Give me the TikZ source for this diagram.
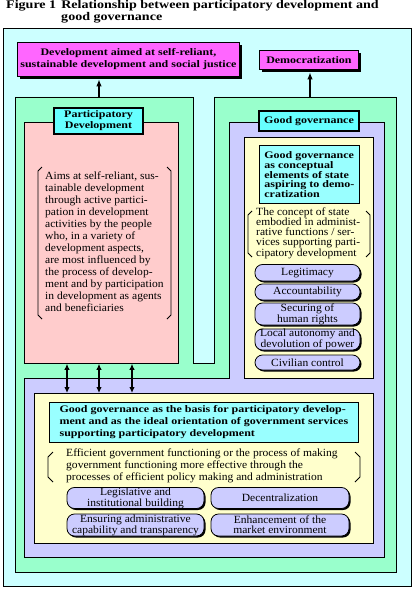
\documentclass[tikz,border=0pt]{standalone}
\usepackage{fontspec}
\setmainfont{Liberation Serif}[FakeStretch=1.05]
\newfontfamily\wideserif{Liberation Serif}[FakeStretch=1.2]
\usetikzlibrary{arrows.meta,shadows,calc}
\definecolor{bgcyan}{HTML}{CCFFFF}
\definecolor{mint}{HTML}{99FFCC}
\definecolor{lav}{HTML}{CCCCFF}
\definecolor{rose}{HTML}{FFCCCC}
\definecolor{cream}{HTML}{FFFFCC}
\definecolor{aqua}{HTML}{66FFFF}
\definecolor{paleaqua}{HTML}{99FFFF}
\definecolor{magent}{HTML}{FF66FF}
\newcommand\myTitleFont{\wideserif\bfseries\fontsize{11.7}{11}\selectfont}
\newcommand\myBoldFont{\wideserif\bfseries\fontsize{10}{12}\selectfont}
\newcommand\myLabFont{\wideserif\bfseries\fontsize{10}{11}\selectfont}
\newcommand\myTightBold{\wideserif\bfseries\fontsize{10}{9}\selectfont}
\newcommand\myBodyFont{\fontsize{11}{12}\selectfont}
\newcommand\myTightFont{\fontsize{11}{10}\selectfont}
\tikzset{
  region/.style={draw=black, line width=0.8pt, inner sep=0pt, anchor=north west},
  goalbox/.style={draw=black, line width=0.8pt, fill=magent, font=\myBoldFont, align=center, inner sep=0pt,
    drop shadow={shadow xshift=2.5pt, shadow yshift=-2.5pt, fill=black, opacity=1}},
  labelbox/.style={draw=black, line width=1.6pt, fill=aqua, font=\myLabFont, align=center, inner sep=0pt},
  infobox/.style={draw=black, line width=0.8pt, fill=paleaqua, align=left, inner sep=0pt},
  pill/.style={draw=black, line width=0.8pt, fill=lav, rounded corners=7.5pt, align=center, inner sep=0pt,
    font=\myTightFont, drop shadow={shadow xshift=1.5pt, shadow yshift=-1.5pt, fill=black, opacity=1}},
  brk/.style={draw=black, line width=0.8pt},
  uparr/.style={line width=1.5pt, -{Latex[length=7pt,width=5.5pt]}},
  dblarr/.style={line width=1.4pt, {Latex[length=6pt,width=5.5pt]}-{Latex[length=6pt,width=5.5pt]}}
}
\begin{document}
\begin{tikzpicture}[x=1pt,y=-1pt]
\useasboundingbox (0,0) rectangle (413,591);

% title
\node[anchor=base west, inner sep=0pt, font=\myTitleFont] (title) at (6,9)
  {\begin{tabular}[t]{@{}l@{\hspace{5pt}}l@{}}Figure 1 & Relationship between participatory development and\\ & good governance\end{tabular}};

% outer frame
\node[region, fill=bgcyan, minimum width=407.5pt, minimum height=558pt] (outer) at (3,28) {};

% goals
\node[goalbox, minimum width=222pt, minimum height=34pt, anchor=north west] (goal) at (17,42)
  {Development aimed at self-reliant,\\ sustainable development and social justice};
\node[goalbox, minimum width=99pt, minimum height=19pt, anchor=north west] (demo) at (259,50) {Democratization};

% green region
\draw[fill=mint, line width=0.8pt] (15,97) -- (193,97) -- (193,363) -- (214,363) -- (214,97)
  -- (396,97) -- (396,572) -- (15,572) -- cycle;
\coordinate (pdtop) at (99,97);
\coordinate (ggtop) at (310,97);

% lavender region
\draw[fill=lav, line width=0.8pt] (229,122) -- (384,122) -- (384,557) -- (24,557) -- (24,378)
  -- (229,378) -- cycle;

% pink box and yellow boxes
\node[region, fill=rose, minimum width=154pt, minimum height=241pt] (pd) at (24,122) {};
\node[region, fill=cream, minimum width=129pt, minimum height=241pt] (ggy) at (244,137) {};
\node[region, fill=cream, minimum width=339pt, minimum height=150pt] (yb) at (34,393) {};

% labels
\node[labelbox, minimum width=89pt, minimum height=26pt] (pdlab) at (98.5,121) {Participatory\\Development};
\node[labelbox, minimum width=100pt, minimum height=20pt] (gglab) at (309,121) {Good governance};

% participatory development text
\node[font=\myBodyFont, align=left, anchor=west, inner sep=0pt] (pdtext) at (45,242)
  {Aims at self-reliant, sus-\\ tainable development\\ through active partici-\\ pation in development\\
   activities by the people\\ who, in a variety of\\ development aspects,\\ are most influenced by\\
   the process of develop-\\ ment and by participation\\ in development as agents\\ and beneficiaries};
\draw[brk] (42,167) -- (38,171) -- (38,315) -- (42,319);
\draw[brk] (167,167) -- (171,171) -- (171,315) -- (167,319);

% good governance (conceptual)
\node[infobox, font=\myTightBold, minimum width=100pt, minimum height=58pt, anchor=north west] (ggc) at (259,145)
  {Good governance\\ as conceptual\\ elements of state\\ aspiring to demo-\\ cratization};
\node[font=\myTightFont, align=left, anchor=west, inner sep=0pt] (ggtext) at (256,233.5)
  {The concept of state\\ embodied in administ-\\ rative functions / ser-\\ vices supporting parti-\\ cipatory development};
\draw[brk] (252,211) -- (248,215) -- (248,253) -- (252,257);
\draw[brk] (366,211) -- (370,215) -- (370,253) -- (366,257);

\node[pill, minimum width=105pt, minimum height=16.5pt] (p1) at (307.5,272.75) {Legitimacy};
\node[pill, minimum width=105pt, minimum height=16pt] (p2) at (307.5,292) {Accountability};
\node[pill, minimum width=105pt, minimum height=22pt] (p3) at (307.5,314) {Securing of\\ human rights};
\node[pill, minimum width=105pt, minimum height=21pt] (p4) at (307.5,339.5) {Local autonomy and\\ devolution of power};
\node[pill, minimum width=105pt, minimum height=15pt] (p5) at (307.5,362.5) {Civilian control};

% good governance (basis)
\node[infobox, font=\myBoldFont, minimum width=309pt, minimum height=40pt, anchor=north west] (gbc) at (49,402)
  {Good governance as the basis for participatory develop-\\ ment and as the ideal orientation of government services\\ supporting participatory development};
\node[font=\myBodyFont, align=left, anchor=west, inner sep=0pt] (btext) at (66,465.5)
  {Efficient government functioning or the process of making\\ government functioning more effective through the\\ processes of efficient policy making and administration};
\draw[brk] (53,452) -- (48,457) -- (48,477) -- (53,482);
\draw[brk] (355,452) -- (360,457) -- (360,477) -- (355,482);

\node[pill, minimum width=137pt, minimum height=21pt] (b1) at (135.5,498) {Legislative and\\ institutional building};
\node[pill, minimum width=138pt, minimum height=21pt] (b2) at (280,498) {Decentralization};
\node[pill, minimum width=137pt, minimum height=22pt] (b3) at (135.5,525) {Ensuring administrative\\ capability and transparency};
\node[pill, minimum width=138pt, minimum height=22pt] (b4) at (280,525) {Enhancement of the\\ market environment};

% connectors
\draw[uparr] (pdtop) -- ($(pdtop |- goal.south)+(0,2.5)$);
\draw[uparr] (ggtop) -- ($(ggtop |- demo.south)+(0,2.5)$);
\coordinate (a1) at (67,0);
\coordinate (a2) at (99,0);
\coordinate (a3) at (132,0);
\draw[dblarr] (a1 |- pd.south) -- (a1 |- yb.north);
\draw[dblarr] (a2 |- pd.south) -- (a2 |- yb.north);
\draw[dblarr] (a3 |- pd.south) -- (a3 |- yb.north);
\end{tikzpicture}
\end{document}
